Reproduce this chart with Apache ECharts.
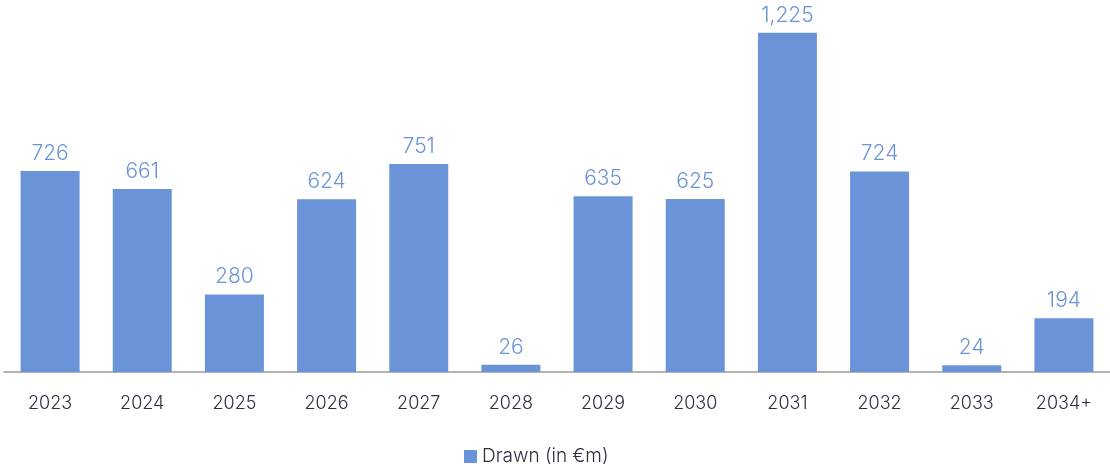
<!DOCTYPE html>
<html>
<head>
<meta charset="utf-8">
<script src="https://cdn.jsdelivr.net/npm/echarts@6/dist/echarts.min.js"></script>
<style>
  html, body { margin: 0; padding: 0; background: #fff; }
  #chart { width: 1110px; height: 464px; }
</style>
</head>
<body>
<div id="chart"></div>
<script>
// Maturity profile: amounts drawn per year
const years = ['2023', '2024', '2025', '2026', '2027', '2028', '2029', '2030', '2031', '2032', '2033', '2034+'];
const drawn = [726, 661, 280, 624, 751, 26, 635, 625, 1225, 724, 24, 194];
const seriesName = 'Drawn (in €m)';

const font = 'Inter, Roboto, sans-serif';
const chart = echarts.init(document.getElementById('chart'));
chart.setOption({
  animation: false,
  textStyle: { fontFamily: font },
  grid: { left: 4, right: 0, top: 12, bottom: 92, containLabel: false },
  legend: {
    top: 442,
    left: 459,
    itemWidth: 13,
    itemHeight: 13,
    icon: 'rect',
    itemGap: 6,
    textStyle: { fontSize: 19, fontWeight: 300, color: '#2b2f40', fontFamily: font },
    data: [seriesName]
  },
  xAxis: {
    type: 'category',
    data: years,
    axisTick: { show: false },
    axisLine: { lineStyle: { color: '#9a9a9a', width: 1.5 } },
    axisLabel: { fontSize: 18, fontWeight: 300, color: '#2b2f40', margin: 23 }
  },
  yAxis: {
    type: 'value',
    min: 0,
    max: 1300,
    show: false,
    splitLine: { show: false }
  },
  series: [{
    name: seriesName,
    type: 'bar',
    data: drawn,
    barWidth: 59,
    itemStyle: { color: '#6b94d8' },
    label: {
      show: true,
      position: 'top',
      distance: 7,
      fontSize: 21,
      fontWeight: 300,
      color: '#6b94d8',
      formatter: p => p.value.toLocaleString('en-US')
    }
  }]
});
</script>
</body>
</html>
